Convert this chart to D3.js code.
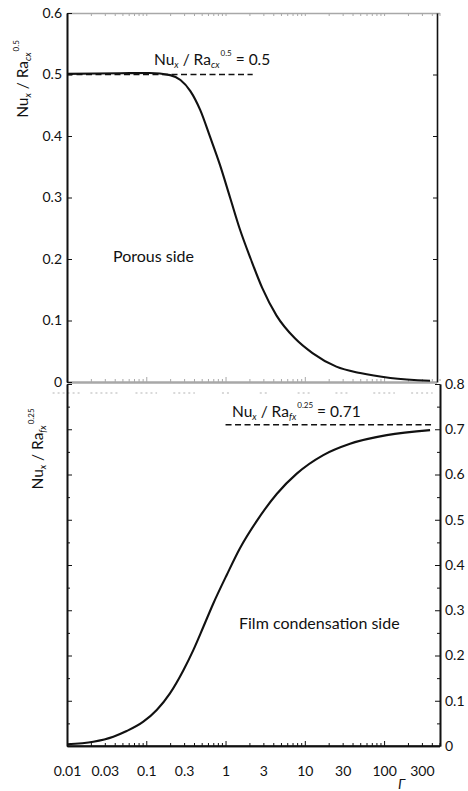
<!DOCTYPE html>
<html>
<head>
<meta charset="utf-8">
<script src="https://cdn.jsdelivr.net/npm/d3@7"></script>
<style>
  body { margin: 0; background: #fff; }
  svg { display: block; }
  text { font-family: Lato, "Open Sans", sans-serif; fill: #111; white-space: pre; }
</style>
</head>
<body>
<svg id="chart" width="468" height="791"></svg>
<script>
// Shared Γ axis labels
const gammaLabels = [0.01, 0.03, 0.1, 0.3, 1, 3, 10, 30, 100, 300];
const gammaDecades = [0.01, 0.1, 1, 10, 100];

// Upper panel: porous side
const porousTicks = [0, 0.1, 0.2, 0.3, 0.4, 0.5, 0.6];
const porousGamma = [0.01, 0.047, 0.11, 0.2, 0.27, 0.36, 0.48, 0.64, 0.85, 1.14, 1.52, 2.08, 2.9, 4.4, 7.5, 12.5, 25, 50, 120, 380];
const porousNu    = [0.501, 0.502, 0.5025, 0.499, 0.491, 0.473, 0.442, 0.398, 0.353, 0.300, 0.248, 0.200, 0.153, 0.108, 0.071, 0.047, 0.025, 0.0145, 0.0065, 0.002];
const porousLimit = 0.5;
const porousLimitGamma = [0.01, 2.2];

// Lower panel: film condensation side
const filmTicks = [0, 0.1, 0.2, 0.3, 0.4, 0.5, 0.6, 0.7, 0.8];
const filmGamma = [0.01, 0.0215, 0.0384, 0.0566, 0.0918, 0.1355, 0.199, 0.293, 0.392, 0.524, 0.701, 1.035, 1.52, 2.47, 4.42, 7.91, 17.1, 37.2, 108, 380];
const filmNu    = [0.004, 0.0095, 0.0206, 0.033, 0.0537, 0.0796, 0.1164, 0.167, 0.212, 0.263, 0.315, 0.378, 0.437, 0.497, 0.557, 0.602, 0.643, 0.668, 0.687, 0.698];
const filmLimit = 0.71;
const filmLimitGamma = [1, 420];

const svg = d3.select("#chart");

const x = d3.scaleLog().domain([0.01, 500]).range([67, 439.5]);
const yTop = d3.scaleLinear().domain([0, 0.6]).range([382, 13]);
const yBot = d3.scaleLinear().domain([0, 0.8]).range([746, 384]);

const xAll = x.ticks();
const isDecade = v => gammaDecades.some(d => Math.abs(d - v) / d < 1e-6);
const xMinor = xAll.filter(v => !isDecade(v));
const halfSteps = (s, major) => s.ticks(20).filter(v => !major.some(m => Math.abs(m - v) < 1e-9) && Math.abs(v * 20 - Math.round(v * 20)) < 1e-9);
const topMinor = halfSteps(yTop, porousTicks);
const botMinor = halfSteps(yBot, filmTicks);

function style(g, color, domainWidth) {
  g.attr("font-family", null).attr("font-size", null);
  g.select(".domain").attr("stroke", color).attr("stroke-width", domainWidth);
  g.selectAll(".tick line").attr("stroke", color).attr("stroke-width", 1);
  g.selectAll(".tick text").attr("font-size", 14).attr("fill", "#111");
  return g;
}

const GRAY = "#a8a8a8";

// ---- upper panel: tops of its own Γ labels peek out under the frame ----
svg.append("g").selectAll("line").data(gammaLabels).join("line")
  .attr("x1", d => x(d) - String(d).length * 3.6)
  .attr("x2", d => x(d) + String(d).length * 3.6)
  .attr("y1", 393).attr("y2", 393)
  .attr("stroke", "#b4b4b4").attr("stroke-width", 1.2)
  .attr("stroke-dasharray", "2,3");

// upper panel frame (gray top and bottom)
style(svg.append("g").attr("transform", "translate(0,13)")
  .call(d3.axisTop(x).tickValues(xAll).tickSize(-3).tickSizeOuter(0).tickFormat("")), GRAY, 1.5);
style(svg.append("g").attr("transform", "translate(0,382)")
  .call(d3.axisBottom(x).tickValues(gammaDecades.slice(1)).tickSize(-5).tickSizeOuter(0).tickFormat("")), GRAY, 2);
style(svg.append("g").attr("transform", "translate(0,382)")
  .call(d3.axisBottom(x).tickValues(xMinor).tickSize(-3).tickSizeOuter(0).tickFormat("")), GRAY, 2);
svg.append("rect").attr("x", 437).attr("y", 381).attr("width", 4).attr("height", 3).attr("fill", "#fff");

// upper panel y axes
style(svg.append("g").attr("transform", "translate(67,0)")
  .call(d3.axisLeft(yTop).tickValues(porousTicks).tickSize(-5).tickSizeOuter(0).tickPadding(5)
    .tickFormat(d => d === 0 ? "0" : d3.format(".1f")(d))), "#111", 1.6);
style(svg.append("g").attr("transform", "translate(67,0)")
  .call(d3.axisLeft(yTop).tickValues(topMinor).tickSize(-3).tickSizeOuter(0).tickFormat("")), "#111", 1.6);
style(svg.append("g").attr("transform", "translate(437,0)")
  .call(d3.axisRight(yTop).tickValues(porousTicks.concat(topMinor).filter(v => v > 0 && v < 0.6)).tickSize(-4).tickSizeOuter(0).tickFormat("")), "#111", 1.6);

// ---- lower panel axes ----
style(svg.append("g").attr("transform", "translate(67,0)")
  .call(d3.axisLeft(yBot).tickValues(filmTicks.filter(v => v > 0)).tickSize(-5).tickSizeOuter(0).tickFormat("")), "#111", 1.6);
style(svg.append("g").attr("transform", "translate(67,0)")
  .call(d3.axisLeft(yBot).tickValues(botMinor).tickSize(-3).tickSizeOuter(0).tickFormat("")), "#111", 1.6);
style(svg.append("g").attr("transform", "translate(440,0)")
  .call(d3.axisRight(yBot).tickValues(filmTicks).tickSize(-5).tickSizeOuter(0).tickPadding(5)
    .tickFormat(d => d === 0 ? "0" : d3.format(".1f")(d))), "#111", 1.6);
style(svg.append("g").attr("transform", "translate(440,0)")
  .call(d3.axisRight(yBot).tickValues(botMinor).tickSize(-3).tickSizeOuter(0).tickFormat("")), "#111", 1.6);
const xAxisBot = style(svg.append("g").attr("transform", "translate(0,746)")
  .call(d3.axisBottom(x).tickValues(gammaLabels).tickSize(0).tickSizeOuter(0).tickPadding(20)
    .tickFormat(d => String(d))), "#111", 1.6);
style(svg.append("g").attr("transform", "translate(0,746)")
  .call(d3.axisBottom(x).tickValues(gammaDecades.slice(1)).tickSize(-5).tickSizeOuter(0).tickFormat("")), "#111", 1.6);
style(svg.append("g").attr("transform", "translate(0,746)")
  .call(d3.axisBottom(x).tickValues(xMinor).tickSize(-3).tickSizeOuter(0).tickFormat("")), "#111", 1.6);
xAxisBot.select(".domain").attr("d", `M67,0H440`);

// ---- curves ----
const lineTop = d3.line().x(d => x(d[0])).y(d => yTop(d[1])).curve(d3.curveMonotoneX);
const lineBot = d3.line().x(d => x(d[0])).y(d => yBot(d[1])).curve(d3.curveMonotoneX);

svg.append("path").datum(porousLimitGamma.map(g => [g, porousLimit]))
  .attr("d", lineTop).attr("fill", "none").attr("stroke", "#111")
  .attr("stroke-width", 1.5).attr("stroke-dasharray", "6,3.5");
svg.append("path").datum(filmLimitGamma.map(g => [g, filmLimit]))
  .attr("d", lineBot).attr("fill", "none").attr("stroke", "#111")
  .attr("stroke-width", 1.5).attr("stroke-dasharray", "6,3.5");

svg.append("path").datum(d3.zip(porousGamma, porousNu))
  .attr("d", lineTop).attr("fill", "none").attr("stroke", "#111").attr("stroke-width", 2.1);
svg.append("path").datum(d3.zip(filmGamma, filmNu))
  .attr("d", lineBot).attr("fill", "none").attr("stroke", "#111").attr("stroke-width", 2.1);

// ---- text ----
function nusselt(sel, sub, pow, tail, size) {
  const t = sel.attr("font-size", size);
  t.append("tspan").text("Nu");
  t.append("tspan").attr("font-size", size * 0.6).attr("font-style", "italic").attr("dy", 3).text("x");
  t.append("tspan").attr("dy", -3).text(" / Ra");
  t.append("tspan").attr("font-size", size * 0.6).attr("font-style", "italic").attr("dy", 3).text(sub);
  t.append("tspan").attr("font-size", size * 0.52).attr("dy", -12).attr("dx", 1).text(pow);
  if (tail) t.append("tspan").attr("dy", 9).text(tail);
  return t;
}

nusselt(svg.append("text").attr("x", 154).attr("y", 65), "cx", "0.5", " = 0.5", 15.5);
nusselt(svg.append("text").attr("x", 232).attr("y", 416.5), "fx", "0.25", " = 0.71", 15.5);

nusselt(svg.append("text").attr("text-anchor", "middle")
  .attr("transform", "translate(28,79) rotate(-90)"), "cx", "0.5", null, 15.5);
nusselt(svg.append("text").attr("text-anchor", "middle")
  .attr("transform", "translate(43,449) rotate(-90)"), "fx", "0.25", null, 15.5);

svg.append("text").attr("x", 113).attr("y", 262).attr("font-size", 16).text("Porous side");
svg.append("text").attr("x", 239).attr("y", 629).attr("font-size", 16).text("Film condensation side");
svg.append("text").attr("x", 398).attr("y", 789).attr("font-size", 14).attr("font-style", "italic").text("Γ");
</script>
</body>
</html>
